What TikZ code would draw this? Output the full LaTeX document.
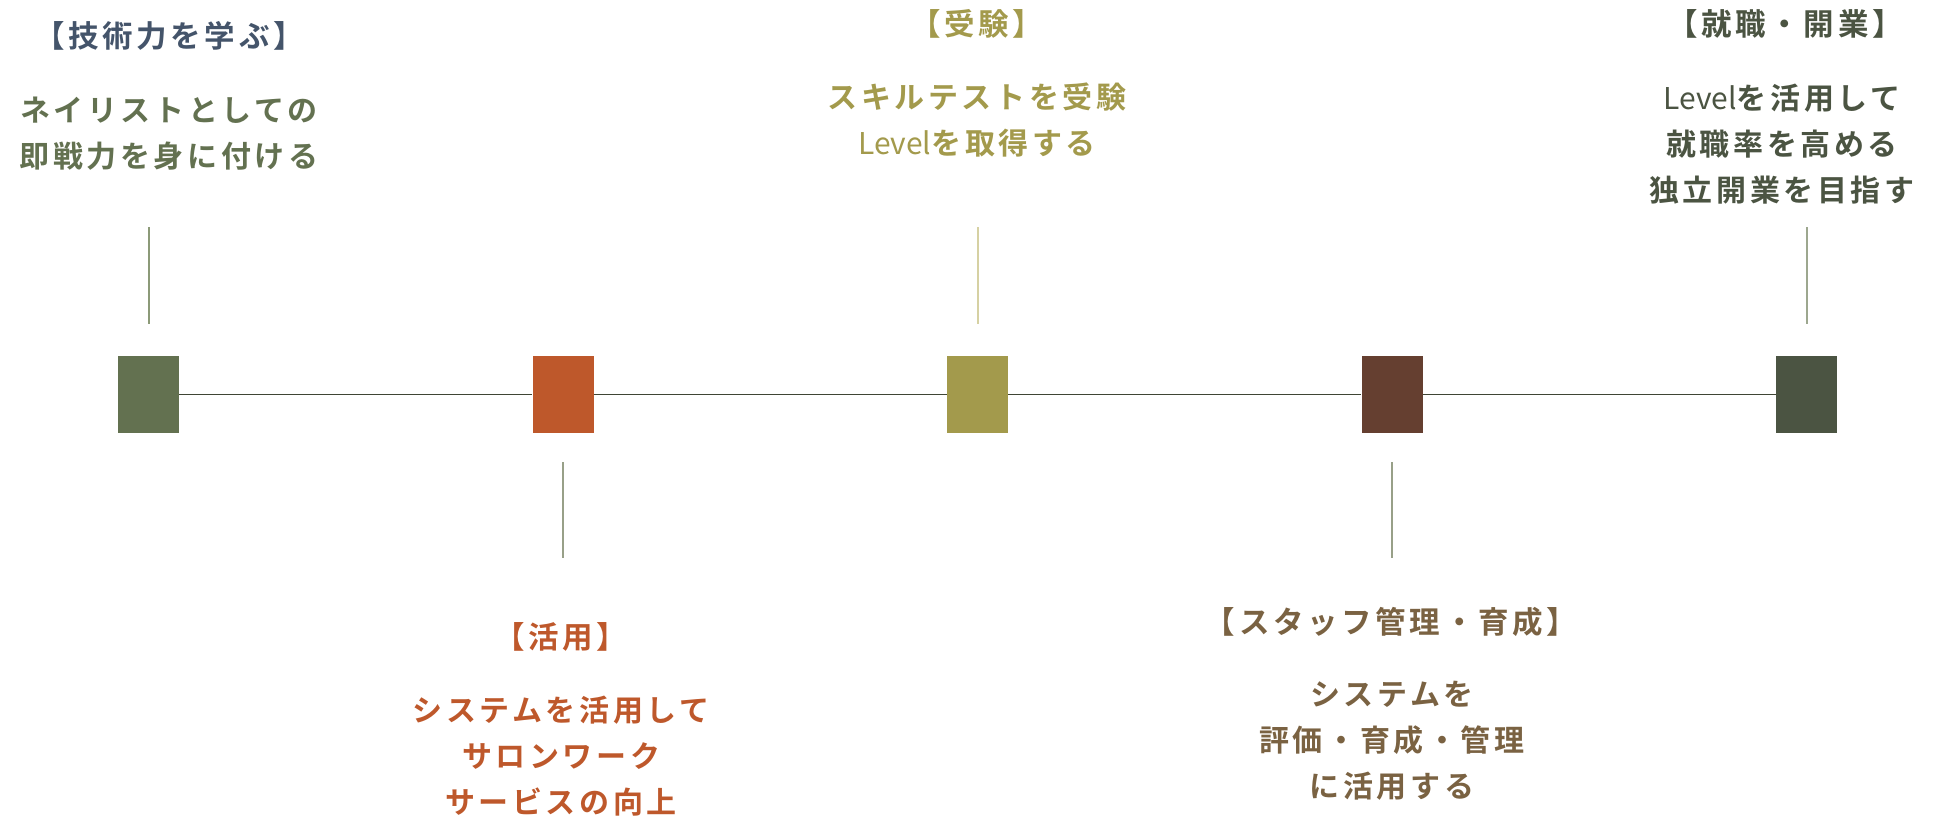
\documentclass[tikz,border=0pt]{standalone}
\usepackage{fontspec}
\setmainfont{Noto Sans CJK JP}
\newfontfamily\jpb{Noto Sans CJK JP}[LetterSpace=12,UprightFont=*,BoldFont=* Bold]
\newfontfamily\lat{Noto Sans CJK JP}
\newcommand{\Lv}{{\lat\mdseries Level}}
\definecolor{cgreen}{HTML}{637150}
\definecolor{cslate}{HTML}{44546A}
\definecolor{corange}{HTML}{BE582B}
\definecolor{colive}{HTML}{A39A4C}
\definecolor{cbrown}{HTML}{653F30}
\definecolor{cbrowntxt}{HTML}{7A6242}
\definecolor{cdark}{HTML}{4B5442}
\definecolor{cline}{HTML}{3F4535}
\definecolor{vline1}{HTML}{8C9A78}
\definecolor{vline3}{HTML}{D6D1A3}
\definecolor{vline5}{HTML}{9DA78F}
\definecolor{vlineb}{HTML}{98A088}
\begin{document}
\begin{tikzpicture}[x=1pt,y=-1pt,
  sq/.style={rectangle,minimum width=61pt,minimum height=77pt,inner sep=0pt,fill=#1},
  ttl/.style={inner sep=0pt,font=\jpb\bfseries\fontsize{30.5}{46}\selectfont,text=#1},
  bdy/.style={inner sep=0pt,align=center,font=\jpb\bfseries\fontsize{30}{46}\selectfont,text=#1},
  vl/.style={draw=#1,line width=2pt},
  tl/.style={draw=cline,line width=1.6pt}]
\useasboundingbox (0,0) rectangle (1941,816);
% squares
\node[sq=cgreen]  (s1) at (148.5,394.5) {};
\node[sq=corange] (s2) at (563,394.5) {};
\node[sq=colive]  (s3) at (977.5,394.5) {};
\node[sq=cbrown]  (s4) at (1392,394.5) {};
\node[sq=cdark]   (s5) at (1806.5,394.5) {};
% timeline
\draw[tl] (s1) -- (s2);
\draw[tl] (s2) -- (s3);
\draw[tl] (s3) -- (s4);
\draw[tl] (s4) -- (s5);
% vertical ticks
\coordinate (u1a) at (148.5,227); \coordinate (u1b) at (148.5,324);
\coordinate (u3a) at (977.5,227); \coordinate (u3b) at (977.5,324);
\coordinate (u5a) at (1806.5,227); \coordinate (u5b) at (1806.5,324);
\coordinate (d2a) at (563,462); \coordinate (d2b) at (563,558);
\coordinate (d4a) at (1392,462); \coordinate (d4b) at (1392,558);
\draw[vl=vline1] (u1a) -- (u1b);
\draw[vl=vline3] (u3a) -- (u3b);
\draw[vl=vline5] (u5a) -- (u5b);
\draw[vl=vlineb] (d2a) -- (d2b);
\draw[vl=vlineb] (d4a) -- (d4b);
% texts
\node[ttl=cslate] (t1) at (169,36) {【技術力を学ぶ】};
\node[bdy=cgreen] (b1) at (169,133.5) {ネイリストとしての\\即戦力を身に付ける};
\node[ttl=colive] (t3) at (977,24) {【受験】};
\node[bdy=colive] (b3) at (977,120) {スキルテストを受験\\\Lv を取得する};
\node[ttl=cdark] (t5) at (1785,24) {【就職・開業】};
\node[bdy=cdark] (b5) at (1782,144) {\Lv を活用して\\就職率を高める\\独立開業を目指す};
\node[ttl=corange] (t2) at (561,637) {【活用】};
\node[bdy=corange] (b2) at (561,756) {システムを活用して\\サロンワーク\\サービスの向上};
\node[ttl=cbrowntxt] (t4) at (1391,622) {【スタッフ管理・育成】};
\node[bdy=cbrowntxt] (b4) at (1392,741) {システムを\\評価・育成・管理\\に活用する};
\end{tikzpicture}
\end{document}
